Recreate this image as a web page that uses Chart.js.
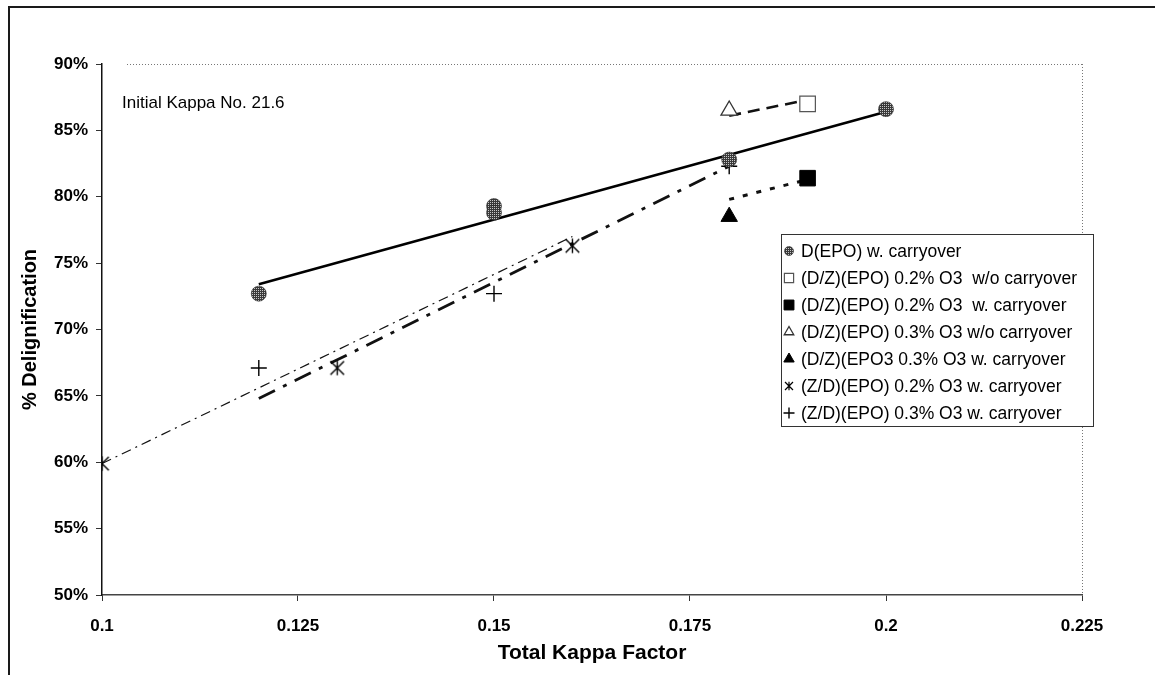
<!DOCTYPE html>
<html>
<head>
<meta charset="utf-8">
<title>Delignification vs Total Kappa Factor</title>
<script src="https://cdn.jsdelivr.net/npm/chart.js@4.4.0/dist/chart.umd.min.js"></script>
<style>
  html, body { margin: 0; padding: 0; background: #fff; }
  #wrap { position: relative; width: 1155px; height: 675px; overflow: hidden; }
  #frame { position: absolute; left: 8px; top: 6px; width: 1300px; height: 800px;
           border-top: 2px solid #1a1a1a; border-left: 2px solid #1a1a1a; }
  #myChart { position: absolute; left: 0; top: 0; }
</style>
</head>
<body>
<div id="wrap">
  <div id="frame"></div>
  <canvas id="myChart" width="1155" height="675"></canvas>
</div>
<script>
// ---- data ----
const seriesNames = [
  'D(EPO) w. carryover',
  '(D/Z)(EPO) 0.2% O3  w/o carryover',
  '(D/Z)(EPO) 0.2% O3  w. carryover',
  '(D/Z)(EPO) 0.3% O3 w/o carryover',
  '(D/Z)(EPO3 0.3% O3 w. carryover',
  '(Z/D)(EPO) 0.2% O3 w. carryover',
  '(Z/D)(EPO) 0.3% O3 w. carryover'
];

const depoX = [0.12, 0.15, 0.15, 0.18, 0.2];
const depoY = [72.7, 79.3, 78.8, 82.8, 86.6];
const dz02woX = [0.19];
const dz02woY = [87.0];
const dz02wX = [0.19];
const dz02wY = [81.4];
const dz03woX = [0.18];
const dz03woY = [86.5];
const dz03wX = [0.18];
const dz03wY = [78.5];
const zd02X = [0.1, 0.13, 0.16];
const zd02Y = [59.9, 67.1, 76.3];
const zd03X = [0.12, 0.15, 0.18];
const zd03Y = [67.1, 72.7, 82.3];

// trend lines (end points)
const trendDepoX = [0.12, 0.2];
const trendDepoY = [73.4, 86.4];
const trendWoX = [0.18, 0.19];
const trendWoY = [86.1, 87.3];
const trendWX = [0.18, 0.19];
const trendWY = [79.8, 81.3];
const trendZd02X = [0.1, 0.16];
const trendZd02Y = [59.9, 77.0];
const trendZd03X = [0.12, 0.18];
const trendZd03Y = [64.8, 82.3];

const xTicks = [0.1, 0.125, 0.15, 0.175, 0.2, 0.225];
const yTicks = [50, 55, 60, 65, 70, 75, 80, 85, 90];
const noteText = 'Initial Kappa No. 21.6';
const xTitle = 'Total Kappa Factor';
const yTitle = '% Delignification';

// ---- helpers ----
function toPoints(xs, ys) {
  return xs.map((x, i) => ({ x: x, y: ys[i] }));
}

function makeStipple() {
  let c = document.createElement('canvas');
  c.width = 2; c.height = 2;
  let g = c.getContext('2d');
  g.fillStyle = '#3a3a3a';
  g.fillRect(0, 0, 2, 2);
  g.fillStyle = '#c8c8c8';
  g.fillRect(0, 0, 1, 1);
  return g.createPattern(c, 'repeat');
}

function makeAsterisk(size, lw) {
  let c = document.createElement('canvas');
  c.width = size; c.height = size;
  let g = c.getContext('2d');
  let m = size / 2, r = size / 2 - 1;
  g.strokeStyle = '#000';
  g.lineWidth = lw;
  g.beginPath();
  g.moveTo(m, m - r * 0.85); g.lineTo(m, m + r * 0.85);
  let d = r * 0.8;
  g.moveTo(m - d, m - d); g.lineTo(m + d, m + d);
  g.moveTo(m + d, m - d); g.lineTo(m - d, m + d);
  g.stroke();
  return c;
}

const stipple = makeStipple();

const markers = [
  { style: 'circle', fill: stipple, line: '#2a2a2a', width: 0.6, r: 7.5, lstyle: 'circle', lr: 4.5 },
  { style: 'rect', fill: '#fff', line: '#555', width: 1.2, r: 11, lstyle: 'rect', lr: 6.5 },
  { style: 'rect', fill: '#000', line: '#000', width: 1, r: 11, lstyle: 'rect', lr: 7 },
  { style: 'triangle', fill: '#fff', line: '#333', width: 1.3, r: 9.5, lstyle: 'triangle', lr: 5.5 },
  { style: 'triangle', fill: '#000', line: '#000', width: 1, r: 9.5, lstyle: 'triangle', lr: 6 },
  { style: makeAsterisk(19, 1.4), fill: '#000', line: '#000', width: 1.2, r: 9, lstyle: makeAsterisk(12, 1.2), lr: 5 },
  { style: 'cross', fill: '#000', line: '#000', width: 1.4, r: 8, lstyle: 'cross', lr: 5.5 }
];

const lineStyles = [
  { color: '#000', width: 2.6, dash: [] },
  { color: '#111', width: 2.6, dash: [12, 7] },
  { color: '#111', width: 3, dash: [5, 9] },
  { color: '#111', width: 1.2, dash: [10, 5, 2, 5] },
  { color: '#111', width: 2.8, dash: [18, 9, 4, 9] }
];

let pointSets = [
  toPoints(depoX, depoY),
  toPoints(dz02woX, dz02woY),
  toPoints(dz02wX, dz02wY),
  toPoints(dz03woX, dz03woY),
  toPoints(dz03wX, dz03wY),
  toPoints(zd02X, zd02Y),
  toPoints(zd03X, zd03Y)
];

let trendSets = [
  toPoints(trendDepoX, trendDepoY),
  toPoints(trendWoX, trendWoY),
  toPoints(trendWX, trendWY),
  toPoints(trendZd02X, trendZd02Y),
  toPoints(trendZd03X, trendZd03Y)
];

let datasets = [];
for (let i = 0; i < trendSets.length; i++) {
  datasets.push({
    label: 'trend ' + i,
    data: trendSets[i],
    showLine: true,
    pointRadius: 0,
    borderColor: lineStyles[i].color,
    borderWidth: lineStyles[i].width,
    borderDash: lineStyles[i].dash,
    borderCapStyle: 'butt',
    fill: false,
    order: 2
  });
}
for (let i = 0; i < pointSets.length; i++) {
  let m = markers[i];
  datasets.push({
    label: seriesNames[i],
    data: pointSets[i],
    showLine: false,
    pointStyle: m.style,
    pointRadius: m.r,
    pointBackgroundColor: m.fill,
    pointBorderColor: m.line,
    pointBorderWidth: m.width,
    order: 1
  });
}

const FONT = "'Liberation Sans', Arial, Helvetica, sans-serif";

// dotted frame lines at 90% and 0.225, note text, and the legend box
const extras = {
  id: 'extras',
  beforeDatasetsDraw(chart) {
    let ctx = chart.ctx;
    let xs = chart.scales.x, ys = chart.scales.y;
    ctx.save();
    ctx.strokeStyle = '#777';
    ctx.lineWidth = 1;
    ctx.setLineDash([1, 2]);
    let yTop = ys.getPixelForValue(yTicks[yTicks.length - 1]);
    let xRight = xs.getPixelForValue(xTicks[xTicks.length - 1]);
    ctx.beginPath();
    ctx.moveTo(xs.left + 25, yTop + 0.5);
    ctx.lineTo(xRight, yTop + 0.5);
    ctx.moveTo(xRight + 0.5, yTop);
    ctx.lineTo(xRight + 0.5, ys.bottom);
    ctx.stroke();
    ctx.restore();

    ctx.save();
    ctx.fillStyle = '#000';
    ctx.font = '17px ' + FONT;
    ctx.textBaseline = 'middle';
    ctx.fillText(noteText, 122, 103);
    ctx.restore();
  },
  afterDraw(chart) {
    let ctx = chart.ctx;
    let left = 781, top = 234, w = 312, rowH = 27;
    let h = rowH * seriesNames.length + 3;
    ctx.save();
    ctx.fillStyle = '#fff';
    ctx.fillRect(left, top, w, h);
    ctx.strokeStyle = '#333';
    ctx.lineWidth = 1;
    ctx.strokeRect(left + 0.5, top + 0.5, w, h);
    ctx.font = '17.5px ' + FONT;
    ctx.textBaseline = 'middle';
    for (let i = 0; i < seriesNames.length; i++) {
      let m = markers[i];
      let cy = top + 17 + i * rowH;
      ctx.fillStyle = m.fill;
      ctx.strokeStyle = m.line;
      ctx.lineWidth = m.width;
      Chart.helpers.drawPoint(ctx, { pointStyle: m.lstyle, radius: m.lr, borderWidth: m.width, rotation: 0 }, 789, cy);
      ctx.fillStyle = '#000';
      ctx.fillText(seriesNames[i], 801, cy + 1);
    }
    ctx.restore();
  }
};

function chartJS() {
  let ctx = document.getElementById('myChart').getContext('2d');
  window.chart = new Chart(ctx, {
    type: 'scatter',
    data: { datasets: datasets },
    plugins: [extras],
    options: {
      responsive: false,
      devicePixelRatio: 1,
      animation: false,
      events: [],
      layout: { padding: { left: 18, top: 64, right: 73, bottom: 0 } },
      plugins: { legend: { display: false }, tooltip: { enabled: false } },
      scales: {
        x: {
          type: 'linear',
          min: xTicks[0],
          max: xTicks[xTicks.length - 1],
          afterBuildTicks: (s) => { s.ticks = xTicks.map(v => ({ value: v })); },
          afterFit: (s) => { s.height = 80; },
          grid: { drawOnChartArea: false, drawTicks: true, tickLength: 6, tickColor: '#333', lineWidth: 1 },
          border: { display: true, color: '#444', width: 1.5 },
          ticks: {
            color: '#000', padding: 15, maxRotation: 0,
            font: { family: FONT, size: 17, weight: 'bold' },
            callback: (v) => String(Number(v.toFixed(3)))
          },
          title: {
            display: true, text: xTitle, color: '#000',
            font: { family: FONT, size: 21, weight: 'bold' },
            padding: { top: 0, bottom: 9 }
          }
        },
        y: {
          type: 'linear',
          min: yTicks[0],
          max: yTicks[yTicks.length - 1],
          afterBuildTicks: (s) => { s.ticks = yTicks.map(v => ({ value: v })); },
          afterFit: (s) => { s.width = 84; },
          grid: { drawOnChartArea: false, drawTicks: true, tickLength: 6, tickColor: '#333', lineWidth: 1 },
          border: { display: true, color: '#111', width: 1.5 },
          ticks: {
            color: '#000', padding: 8,
            font: { family: FONT, size: 17, weight: 'bold' },
            callback: (v) => v + '%'
          },
          title: {
            display: true, text: yTitle, color: '#000',
            font: { family: FONT, size: 20, weight: 'bold' },
            padding: { top: 0, bottom: 0 }
          }
        }
      }
    }
  });
}

chartJS();
</script>
</body>
</html>
